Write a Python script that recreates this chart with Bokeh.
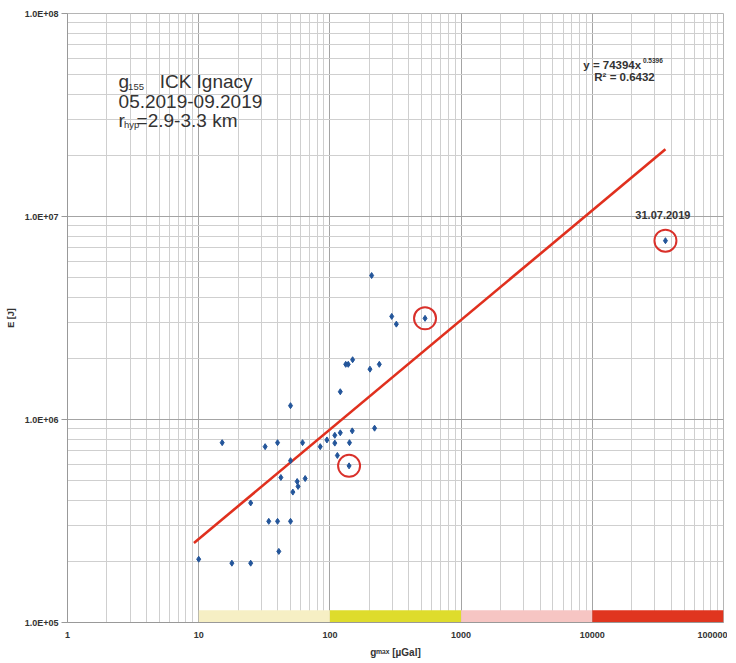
from bokeh.plotting import figure
from bokeh.models import Range1d, FixedTicker, CustomJSTickFormatter, Label, ColumnDataSource
from bokeh.embed import file_html
from bokeh.resources import INLINE

# ---- data ----
g_max = [10.0, 17.9, 24.9, 24.9, 15.1, 32.1, 39.9, 50.1, 50.1, 42.3,
         34.2, 39.9, 50.1, 40.8, 52.2, 56.3, 57.2, 64.8, 61.9, 84.4,
         94.9, 109, 109, 120, 114, 141, 148, 140, 219, 120,
         132, 138, 149, 202, 238, 208, 296, 321, 531, 36100]
energy = [2.05e5, 1.96e5, 1.96e5, 3.88e5, 7.69e5, 7.35e5, 7.69e5, 1.17e6, 6.27e5, 5.18e5,
          3.15e5, 3.15e5, 3.15e5, 2.24e5, 4.39e5, 4.95e5, 4.68e5, 5.12e5, 7.69e5, 7.35e5,
          7.93e5, 7.65e5, 8.36e5, 8.6e5, 6.65e5, 7.69e5, 8.79e5, 5.91e5, 9.06e5, 1.37e6,
          1.87e6, 1.87e6, 1.97e6, 1.77e6, 1.87e6, 5.12e6, 3.22e6, 2.95e6, 3.15e6, 7.6e6]
circled_g = [531, 140, 36100]
circled_E = [3.15e6, 5.91e5, 7.6e6]

fit_a = 74394
fit_b = 0.5396
trend_g = [9.2, 36100]

band_left = [10, 100, 1000, 10000]
band_right = [100, 1000, 10000, 100000]
band_colors = ["#f6efc4", "#dedc2c", "#f6c5c3", "#e0351f"]

x_ticks = [1, 10, 100, 1000, 10000, 100000]
x_tick_labels = ["1", "10", "100", "1000", "10000", "100000"]
y_ticks = [1e5, 1e6, 1e7, 1e8]
y_tick_labels = ["1.0E+05", "1.0E+06", "1.0E+07", "1.0E+08"]

# frame geometry in page pixels (for placing annotations)
FX0, FX1, FY0, FY1 = 69, 724, 15, 622


def at(px, py):
    xd = 10 ** ((px - FX0) / ((FX1 - FX0) / 5.0))
    yd = 10 ** (5 + (FY1 - py) / ((FY1 - FY0) / 3.0))
    return xd, yd


p = figure(width=727, height=660, x_axis_type="log", y_axis_type="log",
           x_range=Range1d(1, 100000), y_range=Range1d(1e5, 1e8),
           output_backend="svg", toolbar_location=None,
           min_border_left=67, min_border_right=4, min_border_top=13, min_border_bottom=33,
           background_fill_color="white", border_fill_color="white")
p.outline_line_color = "#b5b5b5"

minor_x = [k * 10 ** d for d in range(0, 5) for k in range(2, 10)]
minor_y = [k * 10 ** d for d in range(5, 8) for k in range(2, 10)]
p.xaxis.ticker = FixedTicker(ticks=x_ticks, minor_ticks=minor_x)
p.yaxis.ticker = FixedTicker(ticks=y_ticks, minor_ticks=minor_y)

fmt_code = """
let best = 0;
for (let i = 0; i < vals.length; i++) {
  if (Math.abs(Math.log10(vals[i]) - Math.log10(tick)) < Math.abs(Math.log10(vals[best]) - Math.log10(tick))) best = i;
}
return labs[best];
"""
p.xaxis.formatter = CustomJSTickFormatter(args=dict(vals=x_ticks, labs=x_tick_labels), code=fmt_code)
p.yaxis.formatter = CustomJSTickFormatter(args=dict(vals=y_ticks, labs=y_tick_labels), code=fmt_code)

for ax in (p.xaxis, p.yaxis):
    ax.major_label_text_font = "Liberation Sans"
    ax.major_label_text_font_style = "bold"
    ax.major_label_text_font_size = "9px"
    ax.major_label_text_color = "#333333"
    ax.axis_line_color = "#999999"
    ax.major_tick_line_color = "#999999"
    ax.minor_tick_out = 0
    ax.minor_tick_in = 0
    ax.major_tick_in = 0
    ax.axis_label_text_font = "Liberation Sans"
    ax.axis_label_text_font_style = "bold"
    ax.axis_label_text_font_size = "10px"
    ax.axis_label_text_color = "#333333"

p.xaxis.major_tick_out = 0
p.yaxis.major_tick_out = 6
p.xaxis.major_label_standoff = 9
p.yaxis.major_label_standoff = 3
p.xaxis.axis_label = "g\u1d50\u1d43\u02e3 [\u00b5Gal]"
p.yaxis.axis_label = "E [J]"
p.xaxis.axis_label_standoff = 6
p.yaxis.axis_label_standoff = 6
p.yaxis.axis_label_text_font_size = "9px"

p.xgrid.grid_line_color = "#a4a4a4"
p.ygrid.grid_line_color = "#a4a4a4"
p.xgrid.minor_grid_line_color = "#cfcfcf"
p.ygrid.minor_grid_line_color = "#cfcfcf"

# colour bands along the bottom
band_src = ColumnDataSource(dict(left=band_left, right=band_right,
                                 bottom=[1e5] * 4, top=[1.15e5] * 4, color=band_colors))
p.quad(left="left", right="right", bottom="bottom", top="top", fill_color="color",
       line_color=None, source=band_src)

# trendline y = a x^b
trend_E = [fit_a * g ** fit_b for g in trend_g]
p.line(trend_g, trend_E, line_color="#e0301e", line_width=2.6)

# points
p.scatter(g_max, energy, marker="diamond", size=6, fill_color="#23559a", line_color="#23559a")

# red circles
p.scatter(circled_g, circled_E, marker="circle", size=22, fill_color=None,
          line_color="#d9302a", line_width=2)


def add_label(text, px, py, size, style="normal", color="#333333", align="left"):
    xd, yd = at(px, py)
    p.add_layout(Label(x=xd, y=yd, text=text, text_font="Liberation Sans",
                       text_font_size=size, text_font_style=style, text_color=color,
                       text_align=align, text_baseline="alphabetic"))


# title block
add_label("g", 120, 83, "19px")
add_label("155", 129.5, 88, "9.5px")
add_label("ICK Ignacy", 161, 83, "19px")
add_label("05.2019-09.2019", 120, 102.5, "19px")
add_label("r", 120, 122, "19px")
add_label("hyp", 125.5, 126, "9.5px")
add_label("=2.9-3.3 km", 138, 122, "19px")

# equation
add_label("y = 74394x", 584, 66, "11.5px", style="bold")
add_label("0.5396", 643.5, 61.5, "6.5px", style="bold")
add_label("R\u00b2 = 0.6432", 595, 78, "11.5px", style="bold")

# date annotation
add_label("31.07.2019", 636, 216, "11px", style="bold")

open("out.html", "w").write(file_html(p, INLINE))
